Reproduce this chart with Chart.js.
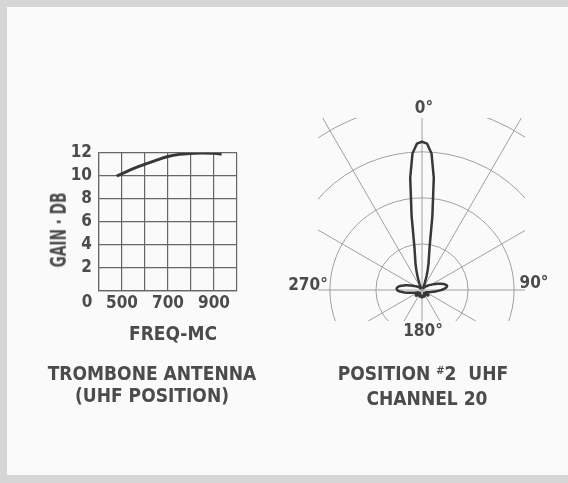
<!DOCTYPE html>
<html>
<head>
<meta charset="utf-8">
<script src="https://cdn.jsdelivr.net/npm/chart.js@4.4.0/dist/chart.umd.min.js"></script>
<style>
  html, body { margin: 0; padding: 0; }
  body {
    width: 568px; height: 483px; position: relative; overflow: hidden;
    background: #d6d6d6;
    font-family: "DejaVu Sans Condensed", "DejaVu Sans", sans-serif;
    font-weight: bold; color: #4b4b4b;
  }
  #panel { position: absolute; left: 7px; top: 7px; right: 0; bottom: 8px; background: #fafafa; }
  canvas { position: absolute; }
  #polar { left: 212px; top: 80px; }
  #gain { left: 30px; top: 120px; }
  .lbl { position: absolute; transform: translate(-50%, -50%); white-space: nowrap; line-height: 1; }
  .cap { font-size: 19px; }
  .deg { font-size: 17px; }
  sup { font-size: 11px; vertical-align: 6px; }
</style>
</head>
<body>
<div id="panel"></div>
<canvas id="polar" width="420" height="420"></canvas>
<canvas id="gain" width="230" height="240"></canvas>

<div class="lbl cap" style="left:58px; top:230px; transform: translate(-50%,-50%) rotate(-90deg) scale(0.8, 1.15);">GAIN · DB</div>
<div class="lbl cap" style="left:173px; top:333px;">FREQ-MC</div>
<div class="lbl cap" style="left:152px; top:373px;">TROMBONE ANTENNA</div>
<div class="lbl cap" style="left:152px; top:395px;">(UHF POSITION)</div>
<div class="lbl cap" style="left:423px; top:373px;">POSITION <sup>#</sup>2&nbsp; UHF</div>
<div class="lbl cap" style="left:427px; top:398px;">CHANNEL 20</div>

<div class="lbl deg" style="left:424px; top:107px;">0°</div>
<div class="lbl deg" style="left:308px; top:284px;">270°</div>
<div class="lbl deg" style="left:534px; top:282px;">90°</div>
<div class="lbl deg" style="left:423px; top:330px;">180°</div>

<script>
// gain vs frequency (trombone antenna, UHF position)
const FREQ = [477, 520, 560, 600, 650, 700, 750, 800, 850, 900, 933];
const GAIN = [10.0, 10.38, 10.72, 11.02, 11.38, 11.7, 11.88, 11.96, 12.0, 11.98, 11.9];
const FREQ_LABELS = [500, 700, 900];

// polar pattern, one reading every 2 degrees, clockwise from 0
const ANGLES = Array.from({ length: 180 }, (_, i) => i * 2);
const PATTERN = [
  3.22, 3.18, 2.97, 2.45, 1.62, 0.95, 0.72, 0.58, 0.44, 0.32, 0.22, 0.14, 0.09, 0.06, 0.05,   // 0-28
  0.05, 0.05, 0.06, 0.07, 0.08, 0.09, 0.10, 0.11, 0.12, 0.13, 0.14, 0.15, 0.17, 0.19, 0.21,   // 30-58
  0.23, 0.26, 0.29, 0.32, 0.36, 0.40, 0.44, 0.48, 0.51, 0.53, 0.55, 0.55, 0.53, 0.50, 0.46,   // 60-88
  0.42, 0.37, 0.33, 0.29, 0.26, 0.23, 0.21, 0.19, 0.17, 0.15, 0.14, 0.13, 0.12, 0.11, 0.10,   // 90-118
  0.10, 0.11, 0.13, 0.15, 0.17, 0.18, 0.18, 0.17, 0.15, 0.13, 0.11, 0.09, 0.08, 0.08, 0.09,   // 120-148
  0.10, 0.12, 0.13, 0.14, 0.15, 0.15, 0.14, 0.13, 0.12, 0.12, 0.13, 0.14, 0.15, 0.16, 0.16,   // 150-178
  0.16, 0.16, 0.15, 0.14, 0.13, 0.12, 0.12, 0.13, 0.14, 0.15, 0.15, 0.14, 0.13, 0.12, 0.10,   // 180-208
  0.09, 0.08, 0.08, 0.09, 0.11, 0.13, 0.15, 0.17, 0.18, 0.18, 0.17, 0.15, 0.13, 0.11, 0.10,   // 210-238
  0.10, 0.11, 0.12, 0.13, 0.15, 0.17, 0.19, 0.22, 0.25, 0.29, 0.33, 0.38, 0.43, 0.48, 0.52,   // 240-268
  0.54, 0.55, 0.55, 0.54, 0.52, 0.49, 0.45, 0.41, 0.37, 0.33, 0.29, 0.26, 0.23, 0.20, 0.18,   // 270-298
  0.16, 0.15, 0.14, 0.13, 0.12, 0.11, 0.10, 0.09, 0.08, 0.07, 0.06, 0.05, 0.05, 0.05, 0.05,   // 300-328
  0.05, 0.05, 0.06, 0.09, 0.14, 0.22, 0.32, 0.44, 0.58, 0.72, 0.95, 1.62, 2.45, 2.97, 3.18    // 330-358
];

const INK = "#4b4b4b";
const TICK_FONT = { family: '"DejaVu Sans Condensed", "DejaVu Sans", sans-serif', size: 17, weight: "bold" };

// the lone "0" sits at the lower-left corner, below the grid
const zeroLabel = {
  id: "zeroLabel",
  afterDraw(chart) {
    const { ctx, scales: { x, y } } = chart;
    ctx.save();
    ctx.font = 'bold 17px "DejaVu Sans Condensed", "DejaVu Sans", sans-serif';
    ctx.fillStyle = INK;
    ctx.textAlign = "center";
    ctx.textBaseline = "middle";
    ctx.fillText("0", x.left - 12, y.bottom + 12);
    ctx.restore();
  },
};

new Chart(document.getElementById("gain"), {
  type: "line",
  data: {
    datasets: [{
      data: FREQ.map((f, i) => ({ x: f, y: GAIN[i] })),
      borderColor: "#383838",
      borderWidth: 3,
      pointRadius: 0,
      cubicInterpolationMode: "monotone",
      fill: false,
    }],
  },
  options: {
    responsive: false,
    animation: false,
    devicePixelRatio: 1,
    layout: { padding: { top: 33, right: 23, left: 0, bottom: 0 } },
    plugins: { legend: { display: false }, tooltip: { enabled: false } },
    scales: {
      x: {
        type: "linear",
        min: 400, max: 1000,
        afterFit: (s) => { s.height = 69; },
        ticks: {
          stepSize: 100, autoSkip: false, maxRotation: 0, padding: 2,
          color: INK, font: TICK_FONT,
          callback: (v) => (FREQ_LABELS.includes(v) ? v : ""),
        },
        grid: { color: "#666", lineWidth: 1.2, drawTicks: false },
        border: { color: "#666", width: 1.2 },
      },
      y: {
        min: 0, max: 12,
        afterFit: (s) => { s.width = 69; },
        ticks: {
          stepSize: 2, autoSkip: false, padding: 7, color: INK, font: TICK_FONT,
          callback: (v) => (v === 0 ? "" : v),
        },
        grid: { color: "#666", lineWidth: 1.2, drawTicks: false },
        border: { color: "#666", width: 1.2 },
      },
    },
  },
  plugins: [zeroLabel],
});

// the polar grid only shows inside a box round the pattern
const clipBox = {
  id: "clipBox",
  beforeDraw(chart) {
    const ctx = chart.ctx;
    ctx.save();
    ctx.beginPath();
    ctx.rect(106, 38, 207, 203);
    ctx.clip();
  },
  afterDraw(chart) {
    chart.ctx.restore();
  },
};

new Chart(document.getElementById("polar"), {
  type: "radar",
  data: {
    labels: ANGLES,
    datasets: [{
      data: PATTERN,
      borderColor: "#383838",
      backgroundColor: "transparent",
      borderWidth: 2.5,
      pointRadius: 0,
      fill: false,
      tension: 0,
    }],
  },
  options: {
    responsive: false,
    animation: false,
    devicePixelRatio: 1,
    plugins: { legend: { display: false }, tooltip: { enabled: false } },
    elements: { line: { borderJoinStyle: "round" } },
    scales: {
      r: {
        min: 0, max: 4.56,
        ticks: { display: false, stepSize: 1 },
        pointLabels: { display: false },
        grid: {
          circular: true,
          lineWidth: 1,
          color: (c) => (c.tick && Number.isInteger(c.tick.value) ? "#a0a0a0" : "transparent"),
        },
        angleLines: {
          color: "#a0a0a0",
          lineWidth: (c) => (c.index % 15 === 0 ? 1 : 0),
        },
      },
    },
  },
  plugins: [clipBox],
});
</script>
</body>
</html>
